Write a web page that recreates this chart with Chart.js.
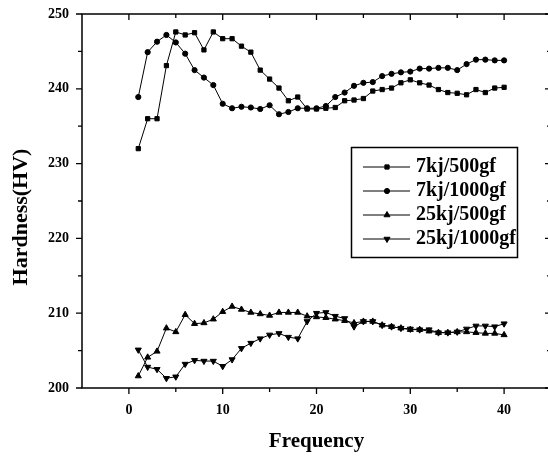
<!DOCTYPE html>
<html>
<head>
<meta charset="utf-8">
<script src="https://cdn.jsdelivr.net/npm/chart.js@4.4.0/dist/chart.umd.min.js"></script>
<style>
  html, body { margin: 0; padding: 0; background: #fff; overflow: hidden; }
  canvas { display: block; }
</style>
</head>
<body>
<canvas id="chart" width="556" height="456"></canvas>
<script>
// Frequency (x) and hardness values
const frequency = [1, 2, 3, 4, 5, 6, 7, 8, 9, 10, 11, 12, 13, 14, 15, 16, 17, 18, 19, 20,
  21, 22, 23, 24, 25, 26, 27, 28, 29, 30, 31, 32, 33, 34, 35, 36, 37, 38, 39, 40];

const hardness7kj500 = [232.0, 236.0, 236.0, 243.1, 247.6, 247.2, 247.5, 245.2, 247.6, 246.7,
  246.7, 245.7, 244.9, 242.5, 241.3, 240.1, 238.4, 238.9, 237.3, 237.3,
  237.4, 237.5, 238.4, 238.5, 238.7, 239.7, 239.9, 240.1, 240.8, 241.2,
  240.8, 240.5, 239.9, 239.5, 239.4, 239.2, 239.9, 239.5, 240.1, 240.2];

const hardness7kj1000 = [238.9, 244.9, 246.3, 247.2, 246.2, 244.7, 242.5, 241.5, 240.5, 238.0,
  237.4, 237.6, 237.5, 237.3, 237.8, 236.6, 236.9, 237.4, 237.4, 237.4,
  237.7, 238.9, 239.5, 240.4, 240.8, 240.9, 241.7, 242.0, 242.2, 242.3,
  242.7, 242.7, 242.8, 242.8, 242.5, 243.3, 243.9, 243.9, 243.8, 243.8];

const hardness25kj500 = [201.6, 204.1, 204.9, 208.0, 207.5, 209.8, 208.6, 208.7, 209.2, 210.2,
  210.9, 210.5, 210.1, 209.9, 209.7, 210.1, 210.1, 210.1, 209.6, 209.5,
  209.4, 209.2, 209.0, 208.7, 208.9, 208.9, 208.4, 208.2, 208.0, 207.8,
  207.8, 207.6, 207.4, 207.4, 207.5, 207.5, 207.4, 207.3, 207.3, 207.1];

const hardness25kj1000 = [205.1, 202.8, 202.5, 201.3, 201.5, 203.2, 203.7, 203.6, 203.6, 202.9,
  203.8, 205.3, 206.0, 206.6, 207.1, 207.3, 206.8, 206.6, 208.9, 210.0,
  210.1, 209.6, 209.3, 208.2, 208.9, 208.9, 208.4, 208.2, 208.0, 207.9,
  207.8, 207.8, 207.4, 207.4, 207.5, 207.9, 208.3, 208.3, 208.2, 208.6];

const seriesLabels = ['7kj/500gf', '7kj/1000gf', '25kj/500gf', '25kj/1000gf'];
const seriesValues = [hardness7kj500, hardness7kj1000, hardness25kj500, hardness25kj1000];

const xTickLabels = [0, 10, 20, 30, 40];
const yTickLabels = [200, 210, 220, 230, 240, 250];

// marker look per series
const markers = [
  { style: 'rect', radius: 3, rotation: 0 },
  { style: 'circle', radius: 2.6, rotation: 0 },
  { style: 'triangle', radius: 3.5, rotation: 0 },
  { style: 'triangle', radius: 3.5, rotation: 180 }
];

const FONT = '"Liberation Serif", "Times New Roman", serif';

// box around the plot with in/out tick marks, like the Origin frame
const frameTicks = {
  id: 'frameTicks',
  afterDatasetsDraw(chart) {
    const { ctx, chartArea: a, scales: { x, y } } = chart;
    ctx.save();
    ctx.strokeStyle = '#000';
    ctx.lineWidth = 1.5;
    ctx.strokeRect(a.left, a.top, a.right - a.left, a.bottom - a.top);
    ctx.lineWidth = 1.3;
    ctx.beginPath();
    x.ticks.forEach(t => {
      const px = x.getPixelForValue(t.value);
      if (px <= a.left + 1 || px >= a.right - 1) return;
      const len = t.value % 10 === 0 ? 6 : 4;
      ctx.moveTo(px, a.bottom); ctx.lineTo(px, a.bottom + len);
      ctx.moveTo(px, a.top); ctx.lineTo(px, a.top + len);
    });
    y.ticks.forEach(t => {
      const py = y.getPixelForValue(t.value);
      const len = t.value % 10 === 0 ? 6 : 4;
      ctx.moveTo(a.left, py); ctx.lineTo(a.left - len, py);
      ctx.moveTo(a.right, py); ctx.lineTo(a.right - len, py);
    });
    ctx.stroke();

    // y title sits a bit below the middle of the axis in the original
    ctx.fillStyle = '#000';
    ctx.font = 'bold 22px ' + FONT;
    ctx.textAlign = 'center';
    ctx.textBaseline = 'middle';
    ctx.translate(21, 217);
    ctx.rotate(-Math.PI / 2);
    ctx.fillText('Hardness(HV)', 0, 0);
    ctx.restore();
  }
};

// legend drawn as a framed box inside the plot
const boxLegend = {
  id: 'boxLegend',
  afterDraw(chart) {
    const { ctx } = chart;
    ctx.save();
    ctx.strokeStyle = '#000';
    ctx.fillStyle = '#000';
    ctx.lineWidth = 1.5;
    ctx.strokeRect(351.5, 147.5, 166, 110);
    ctx.font = 'bold 20px ' + FONT;
    ctx.textBaseline = 'middle';
    chart.data.datasets.forEach((ds, i) => {
      const yy = 167 + i * 24;
      ctx.lineWidth = 1;
      ctx.beginPath();
      ctx.moveTo(363, yy);
      ctx.lineTo(410, yy);
      ctx.stroke();
      Chart.helpers.drawPoint(ctx, {
        pointStyle: ds.pointStyle,
        radius: ds.pointRadius,
        rotation: ds.pointRotation,
        borderWidth: 1
      }, 387, yy);
      ctx.fillText(ds.label, 416, yy);
    });
    ctx.restore();
  }
};

new Chart(document.getElementById('chart'), {
  type: 'line',
  data: {
    datasets: seriesLabels.map((label, i) => ({
      label,
      data: frequency.map((f, j) => ({ x: f, y: seriesValues[i][j] })),
      borderColor: '#000',
      borderWidth: 1,
      backgroundColor: '#000',
      pointBackgroundColor: '#000',
      pointBorderColor: '#000',
      pointBorderWidth: 1,
      pointStyle: markers[i].style,
      pointRadius: markers[i].radius,
      pointRotation: markers[i].rotation,
      tension: 0,
      fill: false
    }))
  },
  options: {
    responsive: false,
    animation: false,
    layout: { padding: { top: 14, right: 5, left: 0, bottom: 0 } },
    plugins: {
      legend: { display: false },
      tooltip: { enabled: false }
    },
    scales: {
      x: {
        type: 'linear',
        min: -5,
        max: 45,
        grid: { display: false, drawTicks: false },
        border: { display: false },
        ticks: {
          stepSize: 5,
          autoSkip: false,
          maxRotation: 0,
          padding: 14,
          color: '#000',
          font: { family: FONT, size: 14, weight: 'bold' },
          callback: v => (xTickLabels.includes(v) ? String(v) : '')
        },
        title: {
          display: true,
          text: 'Frequency',
          color: '#000',
          font: { family: FONT, size: 21, weight: 'bold' },
          padding: { top: 0, bottom: 2 }
        },
        afterFit: s => {
          s.height = 68;
          s.paddingLeft = 0;
          s.paddingRight = 0;
        }
      },
      y: {
        min: 200,
        max: 250,
        grid: { display: false, drawTicks: false },
        border: { display: false },
        ticks: {
          stepSize: 5,
          padding: 13,
          color: '#000',
          font: { family: FONT, size: 14, weight: 'bold' },
          callback: v => (yTickLabels.includes(v) ? String(v) : '')
        },
        title: { display: false },
        afterFit: s => {
          s.width = 82;
          s.paddingTop = 0;
          s.paddingBottom = 0;
        }
      }
    }
  },
  plugins: [frameTicks, boxLegend]
});
</script>
</body>
</html>
